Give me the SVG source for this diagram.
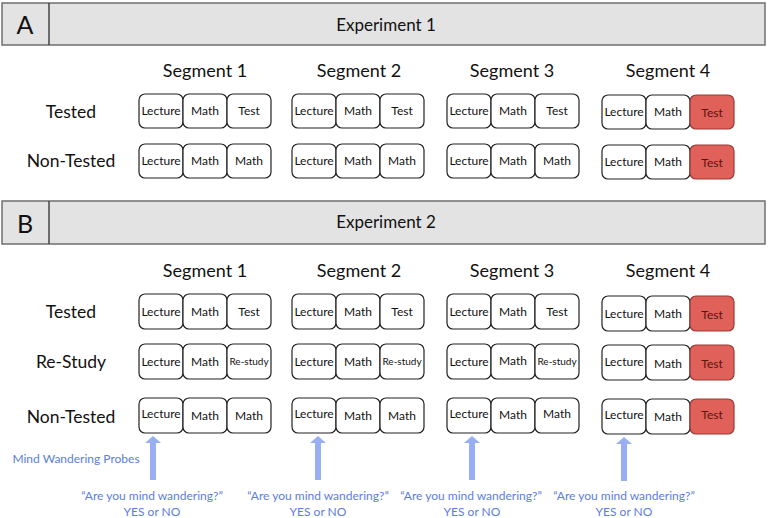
<svg xmlns="http://www.w3.org/2000/svg" width="768" height="518" viewBox="0 0 768 518">
<style>
text{font-family:Lato,"Open Sans","Liberation Sans",sans-serif;fill:#111}
.hdr{fill:#e3e3e3;stroke:#6f6f6f;stroke-width:1.5}
.letter{font-size:25px;text-anchor:middle}
.title{font-size:17px;text-anchor:middle}
.seg{font-size:18px;text-anchor:middle}
.row{font-size:17.5px;text-anchor:middle}
.b{fill:#fff;stroke:#222;stroke-width:1.2}
.r{fill:#e0605a;stroke:#9a3a35;stroke-width:1.2}
.bt{font-size:12px;text-anchor:middle}
.sm{font-size:10px;text-anchor:middle}
.rt{font-size:12px;text-anchor:middle;fill:#5a1410}
.blue{fill:#5b7ee0;font-size:12px;text-anchor:middle}
.arr{fill:#98aef5}
</style>
<defs>
<rect id="box" width="44" height="34" rx="6"/>
</defs>
<g id="headerA">
<rect class="hdr" x="2" y="3" width="763" height="42"/>
<line x1="49" y1="3" x2="49" y2="45" stroke="#444" stroke-width="1.5"/>
<text class="letter" x="25" y="34">A</text>
<text class="title" x="386" y="31">Experiment 1</text>
</g>
<g id="headerB">
<rect class="hdr" x="2" y="201" width="763" height="43"/>
<line x1="49" y1="201" x2="49" y2="244" stroke="#444" stroke-width="1.5"/>
<text class="letter" x="25" y="233">B</text>
<text class="title" x="386" y="228">Experiment 2</text>
</g>
<g id="labelsA">
<text class="seg" x="205" y="77">Segment 1</text>
<text class="seg" x="359" y="77">Segment 2</text>
<text class="seg" x="512" y="77">Segment 3</text>
<text class="seg" x="668" y="77">Segment 4</text>
<text class="row" x="71" y="118">Tested</text>
<text class="row" x="71" y="167">Non-Tested</text>
</g>
<g id="labelsB">
<text class="seg" x="205" y="277">Segment 1</text>
<text class="seg" x="359" y="277">Segment 2</text>
<text class="seg" x="512" y="277">Segment 3</text>
<text class="seg" x="668" y="277">Segment 4</text>
<text class="row" x="71" y="318">Tested</text>
<text class="row" x="71" y="368">Re-Study</text>
<text class="row" x="71" y="423">Non-Tested</text>
</g>
<!-- Experiment 1 rows -->
<g id="A-tested">
<g transform="translate(139,94)"><rect class="b" x="0" width="44" height="34" rx="6"/><rect class="b" x="44" width="44" height="34" rx="6"/><rect class="b" x="88" width="44" height="34" rx="6"/><text class="bt" x="22" y="21">Lecture</text><text class="bt" x="66" y="21">Math</text><text class="bt" x="110" y="21">Test</text></g>
<g transform="translate(292,94)"><rect class="b" x="0" width="44" height="34" rx="6"/><rect class="b" x="44" width="44" height="34" rx="6"/><rect class="b" x="88" width="44" height="34" rx="6"/><text class="bt" x="22" y="21">Lecture</text><text class="bt" x="66" y="21">Math</text><text class="bt" x="110" y="21">Test</text></g>
<g transform="translate(447,94)"><rect class="b" x="0" width="44" height="34" rx="6"/><rect class="b" x="44" width="44" height="34" rx="6"/><rect class="b" x="88" width="44" height="34" rx="6"/><text class="bt" x="22" y="21">Lecture</text><text class="bt" x="66" y="21">Math</text><text class="bt" x="110" y="21">Test</text></g>
<g transform="translate(602,95)"><rect class="b" x="0" width="44" height="34" rx="6"/><rect class="b" x="44" width="44" height="34" rx="6"/><rect class="r" x="88" width="44" height="34" rx="6"/><text class="bt" x="22" y="21">Lecture</text><text class="bt" x="66" y="21">Math</text><text class="rt" x="110" y="22">Test</text></g>
</g>
<g id="A-nontested">
<g transform="translate(139,144)"><rect class="b" x="0" width="44" height="34" rx="6"/><rect class="b" x="44" width="44" height="34" rx="6"/><rect class="b" x="88" width="44" height="34" rx="6"/><text class="bt" x="22" y="21">Lecture</text><text class="bt" x="66" y="21">Math</text><text class="bt" x="110" y="21">Math</text></g>
<g transform="translate(292,144)"><rect class="b" x="0" width="44" height="34" rx="6"/><rect class="b" x="44" width="44" height="34" rx="6"/><rect class="b" x="88" width="44" height="34" rx="6"/><text class="bt" x="22" y="21">Lecture</text><text class="bt" x="66" y="21">Math</text><text class="bt" x="110" y="21">Math</text></g>
<g transform="translate(447,144)"><rect class="b" x="0" width="44" height="34" rx="6"/><rect class="b" x="44" width="44" height="34" rx="6"/><rect class="b" x="88" width="44" height="34" rx="6"/><text class="bt" x="22" y="21">Lecture</text><text class="bt" x="66" y="21">Math</text><text class="bt" x="110" y="21">Math</text></g>
<g transform="translate(602,145)"><rect class="b" x="0" width="44" height="34" rx="6"/><rect class="b" x="44" width="44" height="34" rx="6"/><rect class="r" x="88" width="44" height="34" rx="6"/><text class="bt" x="22" y="21">Lecture</text><text class="bt" x="66" y="21">Math</text><text class="rt" x="110" y="22">Test</text></g>
</g>
<!-- Experiment 2 rows -->
<g id="B-tested">
<g transform="translate(139,294)"><rect class="b" x="0" width="44" height="35" rx="6"/><rect class="b" x="44" width="44" height="35" rx="6"/><rect class="b" x="88" width="44" height="35" rx="6"/><text class="bt" x="22" y="22">Lecture</text><text class="bt" x="66" y="22">Math</text><text class="bt" x="110" y="22">Test</text></g>
<g transform="translate(292,294)"><rect class="b" x="0" width="44" height="35" rx="6"/><rect class="b" x="44" width="44" height="35" rx="6"/><rect class="b" x="88" width="44" height="35" rx="6"/><text class="bt" x="22" y="22">Lecture</text><text class="bt" x="66" y="22">Math</text><text class="bt" x="110" y="22">Test</text></g>
<g transform="translate(447,294)"><rect class="b" x="0" width="44" height="35" rx="6"/><rect class="b" x="44" width="44" height="35" rx="6"/><rect class="b" x="88" width="44" height="35" rx="6"/><text class="bt" x="22" y="22">Lecture</text><text class="bt" x="66" y="22">Math</text><text class="bt" x="110" y="22">Test</text></g>
<g transform="translate(602,296)"><rect class="b" x="0" width="44" height="35" rx="6"/><rect class="b" x="44" width="44" height="35" rx="6"/><rect class="r" x="88" width="44" height="35" rx="6"/><text class="bt" x="22" y="22">Lecture</text><text class="bt" x="66" y="22">Math</text><text class="rt" x="110" y="23">Test</text></g>
</g>
<g id="B-restudy">
<g transform="translate(139,344)"><rect class="b" x="0" width="44" height="35" rx="6"/><rect class="b" x="44" width="44" height="35" rx="6"/><rect class="b" x="88" width="44" height="35" rx="6"/><text class="bt" x="22" y="22">Lecture</text><text class="bt" x="66" y="22">Math</text><text class="sm" x="110" y="21">Re-study</text></g>
<g transform="translate(292,344)"><rect class="b" x="0" width="44" height="35" rx="6"/><rect class="b" x="44" width="44" height="35" rx="6"/><rect class="b" x="88" width="44" height="35" rx="6"/><text class="bt" x="22" y="22">Lecture</text><text class="bt" x="66" y="22">Math</text><text class="sm" x="110" y="21">Re-study</text></g>
<g transform="translate(447,344)"><rect class="b" x="0" width="44" height="35" rx="6"/><rect class="b" x="44" width="44" height="35" rx="6"/><rect class="b" x="88" width="44" height="35" rx="6"/><text class="bt" x="22" y="22">Lecture</text><text class="bt" x="66" y="21">Math</text><text class="sm" x="110" y="21">Re-study</text></g>
<g transform="translate(602,345)"><rect class="b" x="0" width="44" height="35" rx="6"/><rect class="b" x="44" width="44" height="35" rx="6"/><rect class="r" x="88" width="44" height="35" rx="6"/><text class="bt" x="22" y="21">Lecture</text><text class="bt" x="66" y="23">Math</text><text class="rt" x="110" y="23">Test</text></g>
</g>
<g id="B-nontested">
<g transform="translate(139,398)"><rect class="b" x="0" width="44" height="35" rx="6"/><rect class="b" x="44" width="44" height="35" rx="6"/><rect class="b" x="88" width="44" height="35" rx="6"/><text class="bt" x="22" y="20">Lecture</text><text class="bt" x="66" y="22">Math</text><text class="bt" x="110" y="22">Math</text></g>
<g transform="translate(292,398)"><rect class="b" x="0" width="44" height="35" rx="6"/><rect class="b" x="44" width="44" height="35" rx="6"/><rect class="b" x="88" width="44" height="35" rx="6"/><text class="bt" x="22" y="20">Lecture</text><text class="bt" x="66" y="22">Math</text><text class="bt" x="110" y="22">Math</text></g>
<g transform="translate(447,398)"><rect class="b" x="0" width="44" height="35" rx="6"/><rect class="b" x="44" width="44" height="35" rx="6"/><rect class="b" x="88" width="44" height="35" rx="6"/><text class="bt" x="22" y="20">Lecture</text><text class="bt" x="66" y="21">Math</text><text class="bt" x="110" y="20">Math</text></g>
<g transform="translate(602,399)"><rect class="b" x="0" width="44" height="35" rx="6"/><rect class="b" x="44" width="44" height="35" rx="6"/><rect class="r" x="88" width="44" height="35" rx="6"/><text class="bt" x="22" y="20">Lecture</text><text class="bt" x="66" y="22">Math</text><text class="rt" x="110" y="20">Test</text></g>
</g>
<g id="probes">
<path class="arr" d="M150,480 V443 H145 L153,436 L161,443 H156 V480 Z"/>
<path class="arr" d="M315,480 V443 H310 L318,436 L326,443 H321 V480 Z"/>
<path class="arr" d="M469,480 V443 H464 L472,436 L480,443 H475 V480 Z"/>
<path class="arr" d="M621,481 V444 H616 L624,437 L632,444 H627 V481 Z"/>
</g>
<g id="probe-text">
<text class="blue" x="76" y="463">Mind Wandering Probes</text>
<text class="blue" x="152" y="500">“Are you mind wandering?”</text>
<text class="blue" x="152" y="516">YES or NO</text>
<text class="blue" x="318" y="500">“Are you mind wandering?”</text>
<text class="blue" x="318" y="516">YES or NO</text>
<text class="blue" x="471" y="500">“Are you mind wandering?”</text>
<text class="blue" x="472" y="516">YES or NO</text>
<text class="blue" x="624" y="500">“Are you mind wandering?”</text>
<text class="blue" x="624" y="516">YES or NO</text>
</g>
</svg>
